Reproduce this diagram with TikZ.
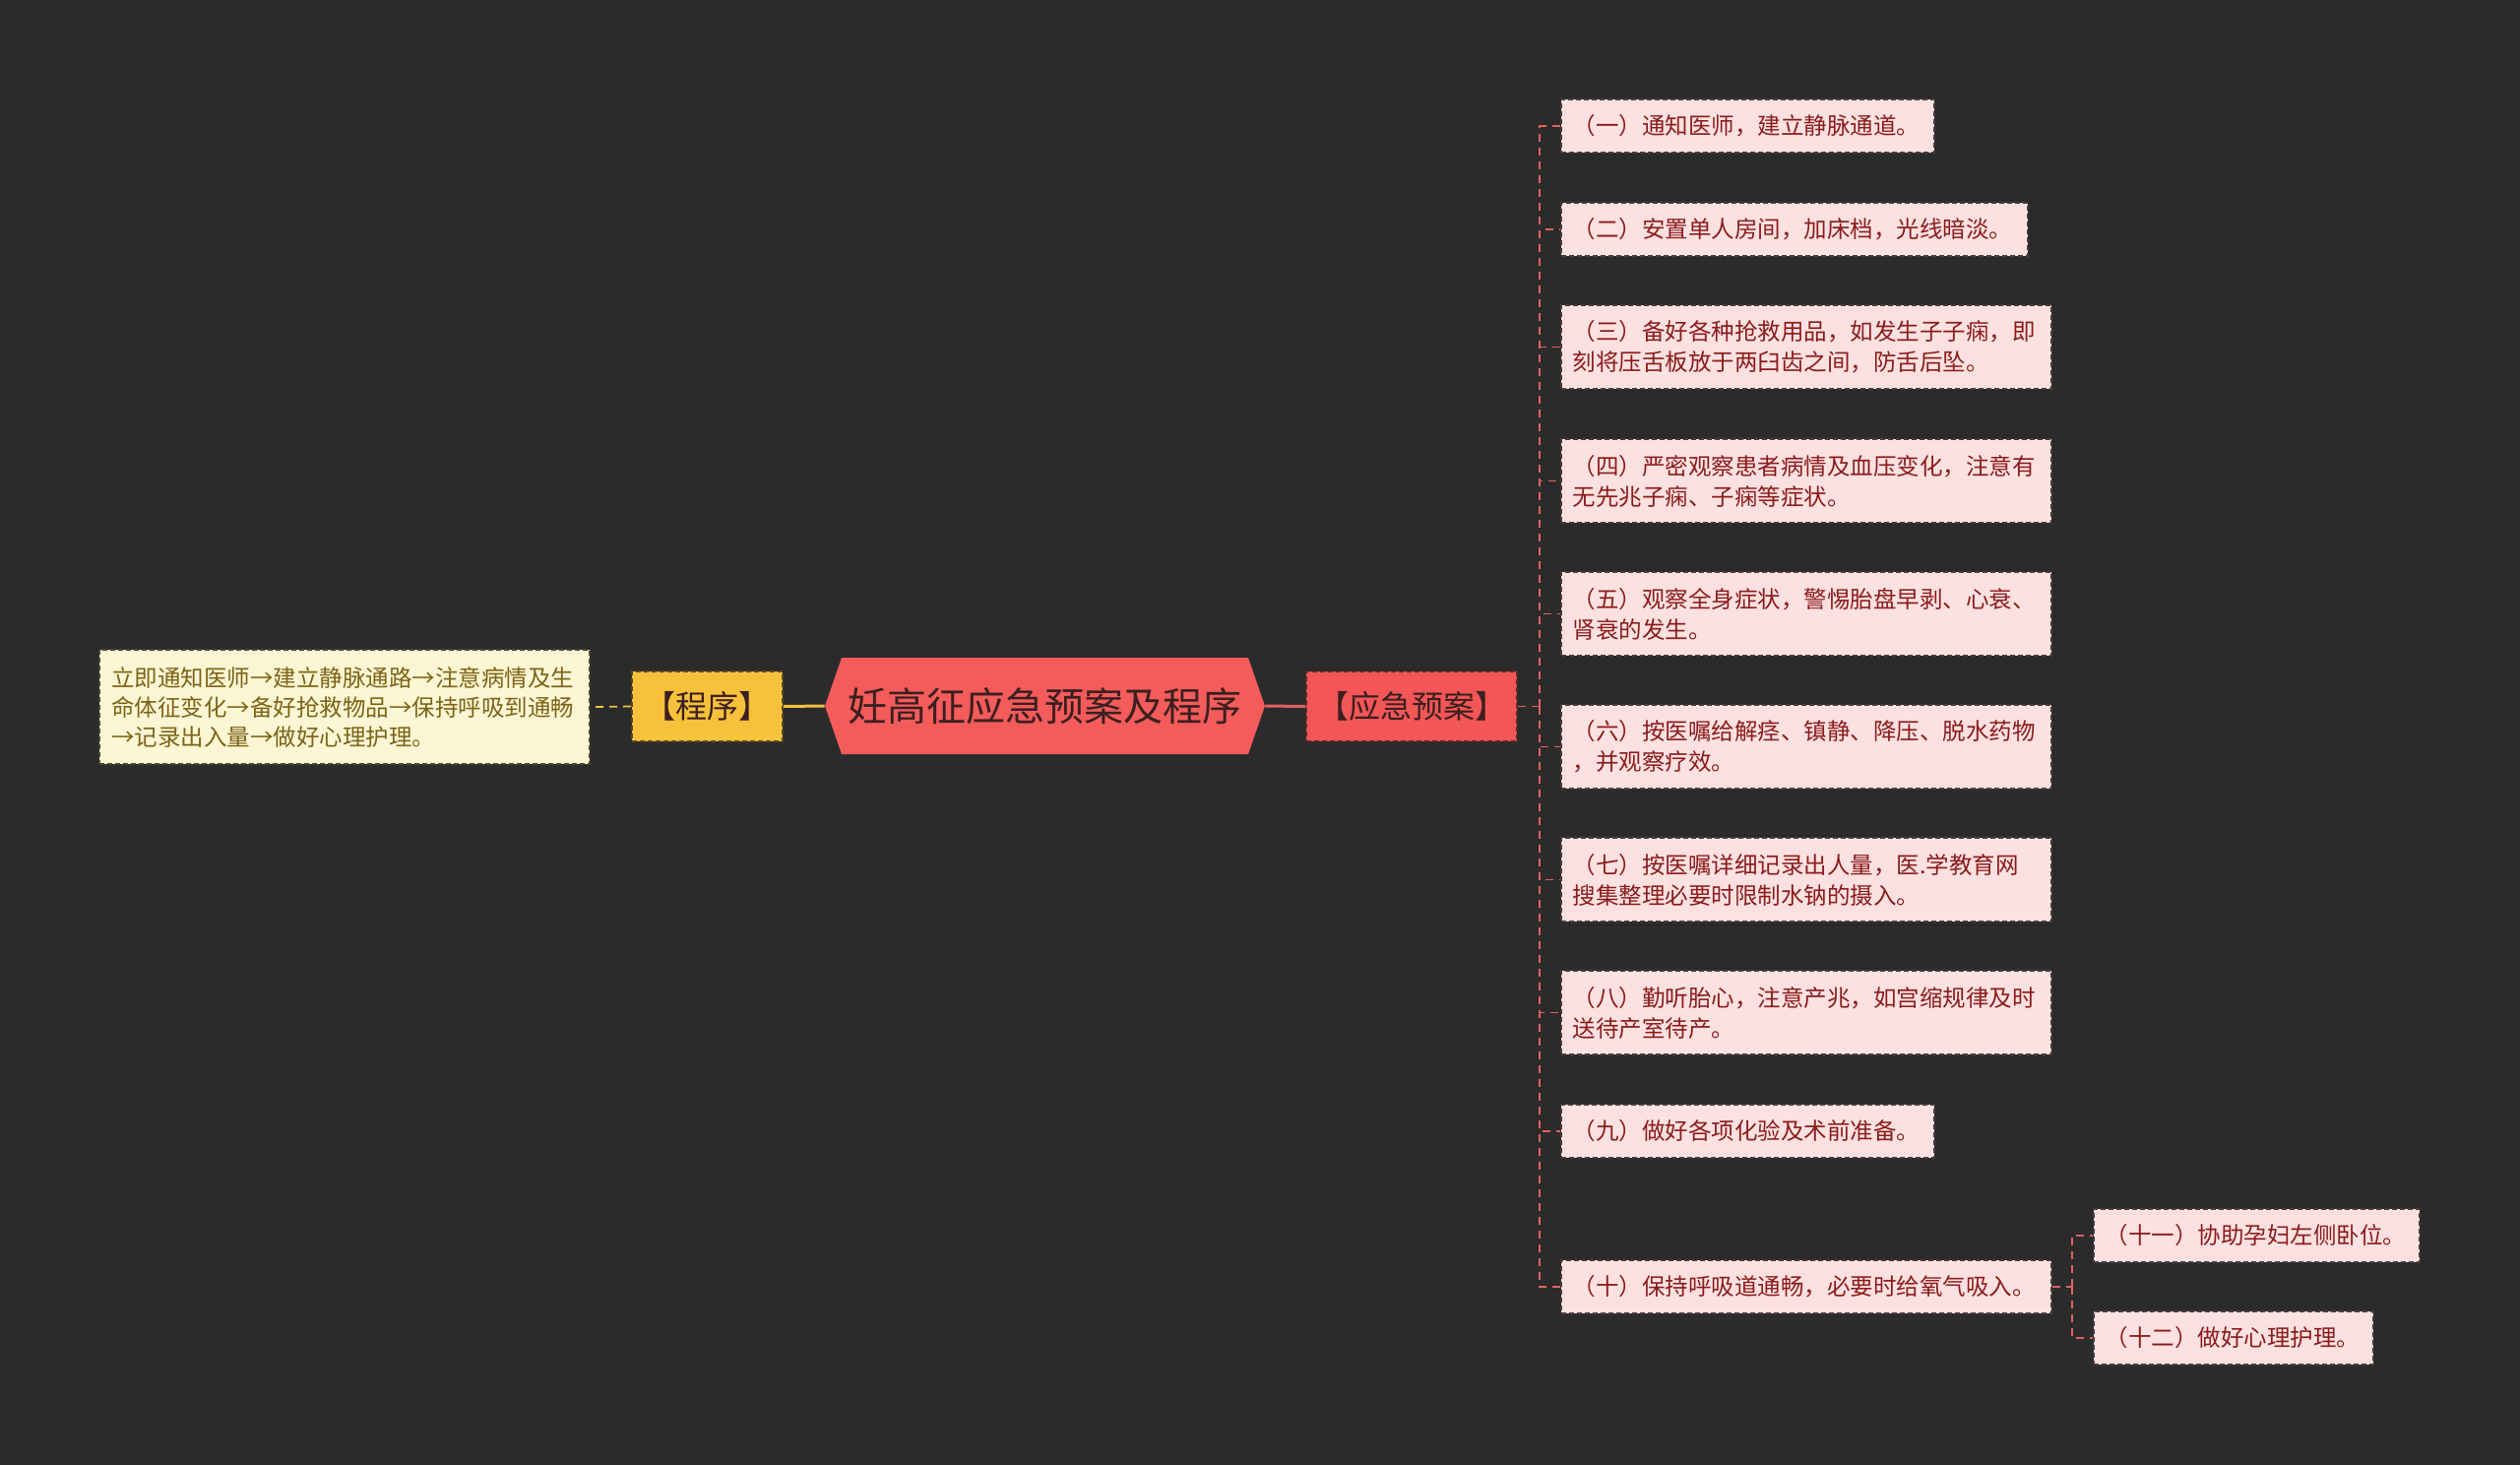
\documentclass[tikz,border=0pt]{standalone}
\usepackage{fontspec}
\newfontfamily\cjk{Noto Sans CJK SC}
\definecolor{bgc}{HTML}{2B2B2B}
\definecolor{cfill}{HTML}{F45B5B}
\definecolor{ctext}{HTML}{3C1F1F}
\definecolor{yjfill}{HTML}{F25656}
\definecolor{yjdraw}{HTML}{5A2A2A}
\definecolor{cxfill}{HTML}{F7C13B}
\definecolor{cxdraw}{HTML}{5A4820}
\definecolor{lbfill}{HTML}{FDF6D4}
\definecolor{lbdraw}{HTML}{4A4430}
\definecolor{lbtext}{HTML}{7B6417}
\definecolor{leaffill}{HTML}{FDE1E1}
\definecolor{leafdraw}{HTML}{4A3A3A}
\definecolor{leaftext}{HTML}{8A1C1C}
\definecolor{rl}{HTML}{E06262}
\definecolor{yl}{HTML}{F0C040}
\begin{document}
\begin{tikzpicture}[x=0.5pt,y=-0.5pt,
  leaf/.style={draw=leafdraw, dash pattern=on 2.5pt off 1.5pt, line width=0.8pt, fill=leaffill,
    text=leaftext, font=\cjk\fontsize{11.75pt}{15.5pt}\selectfont, inner xsep=6pt, inner ysep=0pt,
    anchor=west, align=left},
  hub/.style={dash pattern=on 2.5pt off 1.5pt, line width=0.8pt, inner sep=0pt,
    font=\cjk\fontsize{16pt}{19pt}\selectfont, minimum height=35.5pt},
  rline/.style={draw=rl, dash pattern=on 4pt off 3pt, line width=0.9pt},
  yline/.style={draw=yl, dash pattern=on 4pt off 3pt, line width=0.9pt}]
\fill[bgc] (0,0) rectangle (2560,1488);
\useasboundingbox (0,0) rectangle (2560,1488);

% centre
\node[fill=bgc, draw=none, minimum width=223.5pt, minimum height=49pt, inner sep=0pt, text=ctext,
  font=\cjk\fontsize{20pt}{24pt}\selectfont,
  path picture={\fill[cfill] ([xshift=8.5pt]path picture bounding box.north west) -- ([xshift=-8.5pt]path picture bounding box.north east) -- (path picture bounding box.east) -- ([xshift=-8.5pt]path picture bounding box.south east) -- ([xshift=8.5pt]path picture bounding box.south west) -- (path picture bounding box.west) -- cycle;}]
  (c) at (1061.5,717) {妊高征应急预案及程序};

\node[hub, fill=yjfill, draw=yjdraw, text=ctext, minimum width=107pt] (yj) at (1434,717.5) {【应急预案】};
\node[hub, fill=cxfill, draw=cxdraw, text=ctext, minimum width=76.5pt] (cx) at (718.5,717.5) {【程序】};

\node[draw=lbdraw, dash pattern=on 2.5pt off 1.5pt, line width=0.8pt, fill=lbfill, text=lbtext,
  font=\cjk\fontsize{11.75pt}{15pt}\selectfont, inner xsep=6pt, inner ysep=0pt, text width=237pt,
  minimum height=58pt, align=left] (lb) at (350,718)
  {立即通知医师→建立静脉通路→注意病情及生\\命体征变化→备好抢救物品→保持呼吸到通畅\\→记录出入量→做好心理护理。};

% right leaves
\node[leaf, text width=177.5pt, minimum height=27pt] (r1) at (1585,128) {（一）通知医师，建立静脉通道。};
\node[leaf, text width=225pt, minimum height=27pt] (r2) at (1585,233) {（二）安置单人房间，加床档，光线暗淡。};
\node[leaf, text width=237pt, minimum height=42.5pt] (r3) at (1585,352.5) {（三）备好各种抢救用品，如发生子子痫，即\\刻将压舌板放于两臼齿之间，防舌后坠。};
\node[leaf, text width=237pt, minimum height=42.5pt] (r4) at (1585,488.5) {（四）严密观察患者病情及血压变化，注意有\\无先兆子痫、子痫等症状。};
\node[leaf, text width=237pt, minimum height=42.5pt] (r5) at (1585,623.5) {（五）观察全身症状，警惕胎盘早剥、心衰、\\肾衰的发生。};
\node[leaf, text width=237pt, minimum height=42.5pt] (r6) at (1585,758.5) {（六）按医嘱给解痉、镇静、降压、脱水药物\\，并观察疗效。};
\node[leaf, text width=237pt, minimum height=42.5pt] (r7) at (1585,893.5) {（七）按医嘱详细记录出人量，医.学教育网\\搜集整理必要时限制水钠的摄入。};
\node[leaf, text width=237pt, minimum height=42.5pt] (r8) at (1585,1028.5) {（八）勤听胎心，注意产兆，如宫缩规律及时\\送待产室待产。};
\node[leaf, text width=177.5pt, minimum height=27pt] (r9) at (1585,1149) {（九）做好各项化验及术前准备。};
\node[leaf, text width=237pt, minimum height=27pt] (r10) at (1585,1307) {（十）保持呼吸道通畅，必要时给氧气吸入。};
\node[leaf, text width=153.5pt, minimum height=27pt] (r11) at (2126,1255) {（十一）协助孕妇左侧卧位。};
\node[leaf, text width=130pt, minimum height=27pt] (r12) at (2126,1359) {（十二）做好心理护理。};

% connectors
\draw[draw=yl, line width=1.5pt] (c.west) -- (cx.east);
\draw[draw=rl, line width=1.5pt] (c.east) -- (yj.west);
\draw[yline] (cx.west) -- (lb.east);
\coordinate (tr) at (1564,717.5);
\draw[rline] (yj.east) -- (tr);
\foreach \i in {1,...,10} { \draw[rline] (tr) |- (r\i.west); }
\coordinate (st) at (2105,1307);
\draw[rline] (r10.east) -- (st);
\draw[rline] (st) |- (r11.west);
\draw[rline] (st) |- (r12.west);
\end{tikzpicture}
\end{document}
